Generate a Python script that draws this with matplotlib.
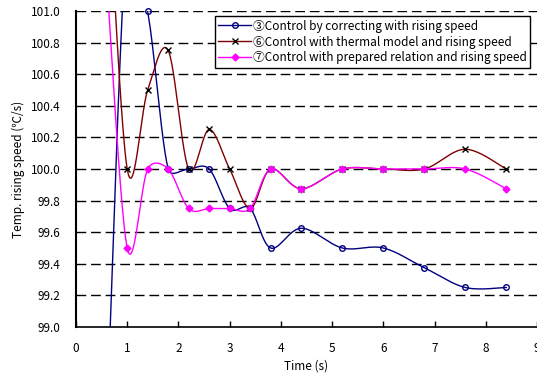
import numpy as np
import matplotlib
matplotlib.use("Agg")
import matplotlib.pyplot as plt
from matplotlib.lines import Line2D

plt.rcParams['font.family'] = ['Noto Sans CJK JP', 'DejaVu Sans']

# =========================
# DATA
# =========================
time_s = [0.6, 1.0, 1.4, 1.8, 2.2, 2.6, 3.0, 3.4, 3.8, 4.4, 5.2, 6.0, 6.8, 7.6, 8.4]

speed_3 = [98.4, 101.5, 101.0, 100.0, 100.0, 100.0, 99.75, 99.75, 99.5, 99.625,
           99.5, 99.5, 99.375, 99.25, 99.25]
speed_6 = [102.0, 100.0, 100.5, 100.75, 100.0, 100.25, 100.0, 99.75, 100.0, 99.875,
           100.0, 100.0, 100.0, 100.125, 100.0]
speed_7 = [101.2, 99.5, 100.0, 100.0, 99.75, 99.75, 99.75, 99.75, 100.0, 99.875,
           100.0, 100.0, 100.0, 100.0, 99.875]

labels = ["③Control by correcting with rising speed",
          "⑥Control with thermal model and rising speed",
          "⑦Control with prepared relation and rising speed"]

YMIN, YMAX = 99.0, 101.0
XMIN, XMAX = 0, 9


# =========================
# SMOOTH LINE (excel like)
# =========================
def smooth(xs, ys, sx=51.0, sy=158.0, n=40):
    # bezier through points, handles limited to half the segment
    p = np.column_stack([np.array(xs) * sx, np.array(ys) * sy])
    out = []
    for i in range(len(p) - 1):
        p0 = p[i - 1] if i > 0 else p[i]
        p1 = p[i]
        p2 = p[i + 1]
        p3 = p[i + 2] if i + 2 < len(p) else p[i + 1]
        seg_len = np.hypot(*(p2 - p1))
        d02 = np.hypot(*(p2 - p0))
        d13 = np.hypot(*(p3 - p1))
        f0 = 1 / 6
        f1 = 1 / 6
        if d02 / 6 > seg_len / 2:
            f0 = seg_len / (2 * d02)
        if d13 / 6 > seg_len / 2:
            f1 = seg_len / (2 * d13)
        c1 = p1 + (p2 - p0) * f0
        c2 = p2 - (p3 - p1) * f1
        t = np.linspace(0, 1, n)[:, None]
        seg = ((1 - t) ** 3) * p1 + 3 * ((1 - t) ** 2) * t * c1 + 3 * (1 - t) * t ** 2 * c2 + t ** 3 * p2
        out.append(seg if i == 0 else seg[1:])
    out = np.vstack(out)
    return out[:, 0] / sx, out[:, 1] / sy


fig = plt.figure(figsize=(5.37, 3.74), dpi=100)
ax = fig.add_axes([0.1415, 0.1257, 0.8585, 0.8449])

styles = [
    dict(color="#000080", marker="o", mfc="none", mec="#000080", ms=4, mew=1.0),
    dict(color="#800000", marker="x", mfc="black", mec="black", ms=5, mew=1.0),
    dict(color="#FF00FF", marker="D", mfc="#FF00FF", mec="#FF00FF", ms=3.5, mew=1.0),
]

handles = []
for ys, st, lab in zip([speed_3, speed_6, speed_7], styles, labels):
    sx_, sy_ = smooth(time_s, ys)
    ax.plot(sx_, sy_, color=st["color"], lw=1.0, zorder=3)
    xs_in = [x for x, y in zip(time_s, ys) if YMIN <= y <= YMAX]
    ys_in = [y for y in ys if YMIN <= y <= YMAX]
    ax.plot(xs_in, ys_in, ls="none", marker=st["marker"], mfc=st["mfc"], mec=st["mec"],
            ms=st["ms"], mew=st["mew"], clip_on=False, zorder=4)
    handles.append(Line2D([0], [0], color=st["color"], lw=1.0, marker=st["marker"],
                          mfc=st["mfc"], mec=st["mec"], ms=st["ms"], mew=st["mew"]))

ax.set_xlim(XMIN, XMAX)
ax.set_ylim(YMIN, YMAX)
ax.set_xticks(range(0, 10))
ax.set_yticks(np.arange(99.0, 101.01, 0.2))
ax.set_yticklabels([f"{v:.1f}" for v in np.arange(99.0, 101.01, 0.2)])

for v in np.arange(99.2, 101.01, 0.2):
    ax.axhline(v, color="black", lw=1.0, ls=(0, (7, 3.5)), zorder=1)

ax.spines["top"].set_visible(False)
ax.spines["right"].set_visible(False)
ax.spines["left"].set_linewidth(1.5)
ax.spines["bottom"].set_linewidth(1.2)

ax.tick_params(axis="x", direction="in", length=4, width=1, pad=11, labelsize=8.5)
ax.tick_params(axis="y", length=0, pad=11, labelsize=8.5)

ax.set_xlabel("Time (s)", fontsize=8.5, labelpad=3)
ax.set_ylabel("Temp. rising speed (℃/s)", fontsize=8.5, labelpad=4)

leg = ax.legend(handles, labels, loc="upper right", bbox_to_anchor=(0.985, 0.984),
                fontsize=8.5, frameon=True, fancybox=False, framealpha=1,
                edgecolor="black", handlelength=2.8, handletextpad=0.1,
                borderpad=0.3, labelspacing=0.25, borderaxespad=0)
leg.get_frame().set_linewidth(1.0)

fig.savefig("out.png", dpi=100)
